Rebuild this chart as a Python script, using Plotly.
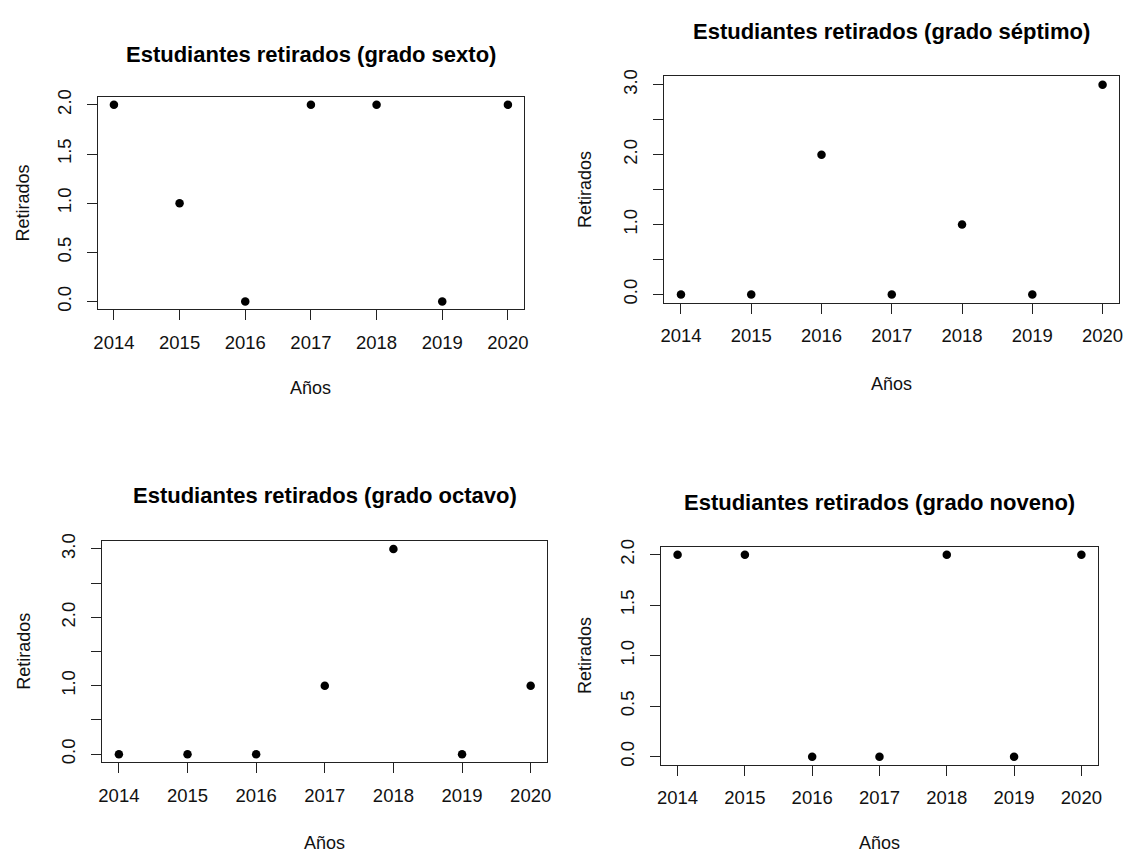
import plotly.graph_objects as go

# Years and number of withdrawn students per grade
anios = [2014, 2015, 2016, 2017, 2018, 2019, 2020]
sexto = [2, 1, 0, 2, 2, 0, 2]
septimo = [0, 0, 2, 0, 1, 0, 3]
octavo = [0, 0, 0, 1, 3, 0, 1]
noveno = [2, 2, 0, 0, 2, 0, 2]

titulos = [
    "Estudiantes retirados (grado sexto)",
    "Estudiantes retirados (grado séptimo)",
    "Estudiantes retirados (grado octavo)",
    "Estudiantes retirados (grado noveno)",
]
series = [sexto, septimo, octavo, noveno]

W, H = 1129, 854
FONT = "Liberation Sans, Arial, sans-serif"

# panel boxes in pixels: (left, right, top, bottom)
cajas = [
    (94, 523.3, 90, 305),
    (665, 1124.4, 69.2, 298.3),
    (98.3, 547.0, 539, 763.3),
    (662.3, 1102.3, 545, 765.7),
]
titulo_y = [47, 24, 493, 500]
xlab_y = [384, 380, 845, 845]
ylab_x = [18.5, 584.5, 18.5, 584.5]

fig = go.Figure()
ann = []

for i, (vals, caja) in enumerate(zip(series, cajas)):
    l, r, t, b = caja
    n = "" if i == 0 else str(i + 1)
    fig.add_trace(go.Scatter(
        x=anios, y=vals, mode="markers",
        marker=dict(color="black", size=8.5),
        xaxis="x" + n, yaxis="y" + n, showlegend=False, hoverinfo="x+y",
    ))
    ymax = max(vals)
    pad = 0.04 * ymax
    yticks = [k * 0.5 for k in range(int(ymax * 2) + 1)]
    if ymax >= 3:
        ytext = [f"{v:.1f}" if v == int(v) else "" for v in yticks]
    else:
        ytext = [f"{v:.1f}" for v in yticks]
    axis_common = dict(
        showline=True, linecolor="#222", linewidth=1, mirror=True,
        showgrid=False, zeroline=False, ticks="outside", ticklen=10,
        tickcolor="#222", tickwidth=1,
        tickfont=dict(family=FONT, size=18.5, color="#111"),
    )
    fig.update_layout(**{
        "xaxis" + n: dict(
            domain=[l / W, r / W], anchor="y" + n,
            range=[2014 - 0.24, 2020 + 0.24],
            tickvals=anios, ticktext=[str(a) for a in anios],
            ticklabelstandoff=6,
            **axis_common,
        ),
        "yaxis" + n: dict(
            domain=[1 - b / H, 1 - t / H], anchor="x" + n,
            range=[-pad, ymax + pad],
            tickvals=yticks, ticktext=ytext, tickangle=-90,
            ticklabelstandoff=9,
            **axis_common,
        ),
    })
    cx = (l + r) / 2
    ann.append(dict(
        text=f"<b>{titulos[i]}</b>", x=cx / W, y=1 - titulo_y[i] / H,
        xref="paper", yref="paper", showarrow=False,
        xanchor="center", yanchor="middle",
        font=dict(family=FONT, size=22, color="black"),
    ))
    ann.append(dict(
        text="Años", x=cx / W, y=1 - xlab_y[i] / H,
        xref="paper", yref="paper", showarrow=False,
        xanchor="center", yanchor="middle",
        font=dict(family=FONT, size=18, color="#111"),
    ))
    ann.append(dict(
        text="Retirados", x=ylab_x[i] / W, y=1 - (t + b) / 2 / H,
        xref="paper", yref="paper", showarrow=False, textangle=-90,
        xanchor="center", yanchor="middle",
        font=dict(family=FONT, size=18, color="#111"),
    ))

fig.update_layout(
    width=W, height=H,
    margin=dict(l=0, r=0, t=0, b=0),
    paper_bgcolor="white", plot_bgcolor="white",
    annotations=ann,
)

fig.write_html("out.html")
